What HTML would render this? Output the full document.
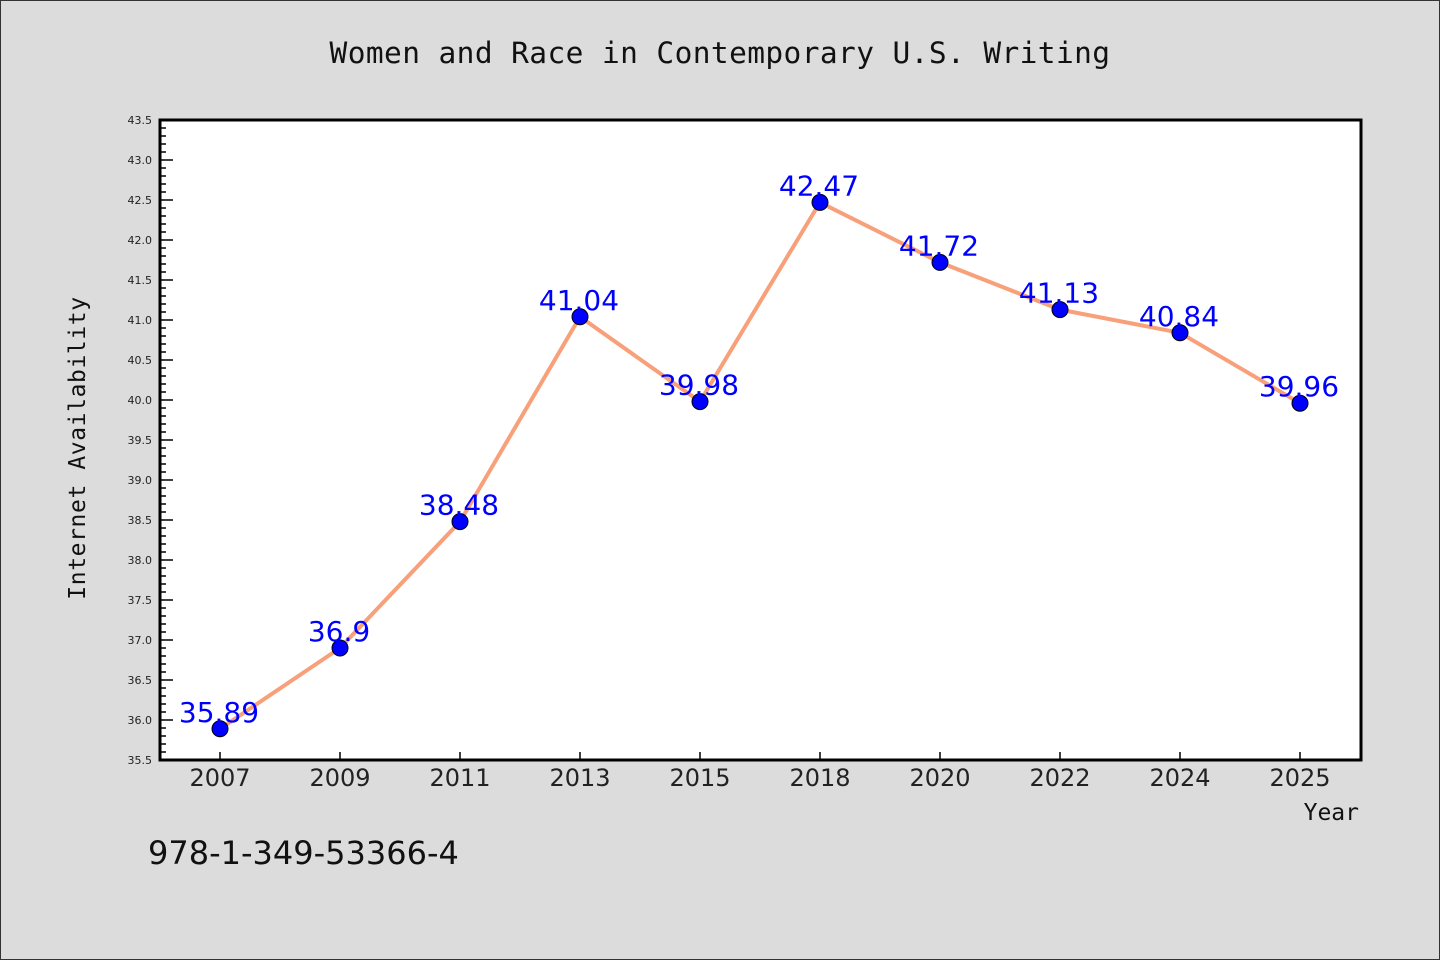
<!DOCTYPE html>
<html><head><meta charset="utf-8"><style>
html,body{margin:0;padding:0;background:#dcdcdc;}
svg{display:block;}
</style></head><body>
<svg width="1440" height="960" xmlns="http://www.w3.org/2000/svg" font-family="'WenQuanYi Zen Hei','DejaVu Sans',sans-serif">
<rect x="0.5" y="0.5" width="1439" height="959" fill="#dcdcdc" stroke="#333" stroke-width="1"/>
<text x="720" y="63" text-anchor="middle" font-family="'DejaVu Sans Mono','Liberation Mono',monospace" font-size="29.5" letter-spacing="0.4" fill="#111">Women and Race in Contemporary U.S. Writing</text>
<rect x="160" y="120" width="1201" height="640" fill="#fff"/>
<g id="ticks"></g>
<g id="marks"></g>
<rect x="160" y="120" width="1201" height="640" fill="none" stroke="#000" stroke-width="3"/>
<text transform="translate(85,448) rotate(-90)" text-anchor="middle" font-family="'DejaVu Sans Mono','Liberation Mono',monospace" font-size="23" letter-spacing="0.6" fill="#111">Internet Availability</text>
<text x="1359" y="820" text-anchor="end" font-family="'DejaVu Sans Mono','Liberation Mono',monospace" font-size="23" fill="#111">Year</text>
<text x="148" y="864" font-size="32" fill="#111">978-1-349-53366-4</text>
</svg>
<script>
const categories = ['2007','2009','2011','2013','2015','2018','2020','2022','2024','2025'];
const values = [35.89, 36.9, 38.48, 41.04, 39.98, 42.47, 41.72, 41.13, 40.84, 39.96];
const labels = ['35.89','36.9','38.48','41.04','39.98','42.47','41.72','41.13','40.84','39.96'];
const yMin = 35.5, yMax = 43.5;
const NS='http://www.w3.org/2000/svg';
const x = i => 220 + i*120;
const y = v => 760 - (v - yMin) / (yMax - yMin) * 640;
function mk(tag, attrs, parent, text){const e=document.createElementNS(NS,tag);for(const k in attrs)e.setAttribute(k,attrs[k]);if(text!==undefined)e.textContent=text;parent.appendChild(e);return e;}
const tg=document.getElementById('ticks');
for(let k=0;k<=80;k++){
  const v=yMin+k*0.1, yy=y(v), major=k%5===0;
  const t=mk('line',{x1:160,x2:major?173:166,y1:yy,y2:yy,stroke:'#000','stroke-width':1.5},tg);
  
  
  if(major){
    const l=mk('text',{x:152,y:yy+4,'text-anchor':'end','font-size':11,fill:'#222'},tg,v.toFixed(1));
    
    
  }
}
categories.forEach((c,i)=>{
  const t=mk('line',{x1:x(i),x2:x(i),y1:760,y2:752,stroke:'#000','stroke-width':1.5},tg);
  
  
  const l=mk('text',{x:x(i),y:786,'text-anchor':'middle','font-size':24,fill:'#222'},tg,c);
  
  
});
const mg=document.getElementById('marks');
const line=mk('polyline',{points:values.map((v,i)=>x(i)+','+y(v)).join(' '),fill:'none',stroke:'#f8a07a','stroke-width':4,'stroke-linejoin':'round'},mg);


values.forEach((v,i)=>{
  const p=mk('circle',{cx:x(i),cy:y(v),r:8,fill:'#0000ff',stroke:'#000','stroke-width':1},mg);
  
  
});
values.forEach((v,i)=>{
  const l=mk('text',{x:x(i)-1,y:y(v)-7,'text-anchor':'middle','font-size':28,fill:'#0000ff'},mg,labels[i]);
  
  
});
</script>
</body></html>
